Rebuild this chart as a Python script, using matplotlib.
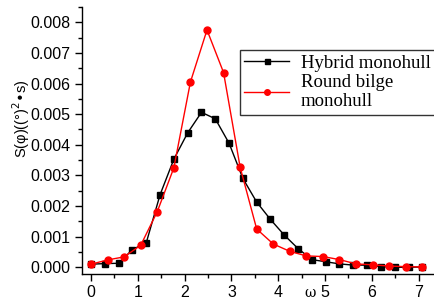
import matplotlib
matplotlib.use("Agg")
import matplotlib.pyplot as plt
from matplotlib.ticker import MultipleLocator

# Hybrid monohull (black squares)
hybrid_omega = [0.0, 0.295, 0.59, 0.885, 1.18, 1.475, 1.77, 2.065, 2.36, 2.655,
                2.95, 3.245, 3.54, 3.835, 4.13, 4.425, 4.72, 5.015, 5.31, 5.605,
                5.9, 6.195, 6.49, 6.785, 7.08]
hybrid_S = [0.0001, 0.00012, 0.00013, 0.00058, 0.0008, 0.00237, 0.00353, 0.00439,
            0.00506, 0.00485, 0.00405, 0.0029, 0.00213, 0.00156, 0.00105, 0.00061,
            0.00025, 0.00018, 0.00011, 0.00007, 0.00007, 0.00002, 0.0, 0.0, 0.00001]

# Round bilge monohull (red circles)
round_omega = [0.0, 0.354, 0.708, 1.062, 1.416, 1.77, 2.124, 2.478, 2.832, 3.186,
               3.54, 3.894, 4.248, 4.602, 4.956, 5.31, 5.664, 6.018, 6.372, 6.726, 7.08]
round_S = [0.0001, 0.00024, 0.00034, 0.00072, 0.00182, 0.00325, 0.00605, 0.00775,
           0.00636, 0.00327, 0.00125, 0.00076, 0.00052, 0.00037, 0.00035, 0.00025,
           0.00011, 0.00008, 0.00004, 0.00002, 0.00001]

labels = ["Hybrid monohull", "Round bilge\nmonohull"]

plt.rcParams['font.family'] = ['Liberation Sans', 'DejaVu Sans']

fig = plt.figure(figsize=(4.34, 3.0), dpi=100)
ax = fig.add_axes([81.7/434, 26/300, 1 - 81.7/434, 267/300])

ax.plot(hybrid_omega, hybrid_S, color='black', lw=1.0, marker='s', ms=4.5,
        label=labels[0])
ax.plot(round_omega, round_S, color='red', lw=1.0, marker='o', ms=5,
        label=labels[1])

ax.set_xlim(-0.2, 7.33)
ax.set_ylim(-0.00022, 0.0085)
ax.xaxis.set_major_locator(MultipleLocator(1))
ax.xaxis.set_minor_locator(MultipleLocator(0.5))
ax.yaxis.set_major_locator(MultipleLocator(0.001))
ax.yaxis.set_minor_locator(MultipleLocator(0.0005))
ax.yaxis.set_major_formatter(matplotlib.ticker.FormatStrFormatter('%.3f'))

for s in ['top', 'right']:
    ax.spines[s].set_visible(False)
for s in ['left', 'bottom']:
    ax.spines[s].set_linewidth(1.0)

ax.tick_params(which='major', direction='out', length=5, width=1, labelsize=11.5, pad=3)
ax.tick_params(which='minor', direction='out', length=3, width=1)

fig.text(21/434, 1 - 119/300, "S(φ)((°)$^{2}$•s)", fontsize=10.5, rotation=90,
         ha='center', va='center')
fig.text(310/434, 1 - 293/300, "ω", fontsize=10, ha='center', va='center',
         family='DejaVu Serif')

leg = fig.legend(loc='upper left', bbox_to_anchor=(239.7/434, 1 - 50/300),
                 prop={'family': 'Liberation Serif', 'size': 13.5},
                 frameon=True, fancybox=False, edgecolor='black',
                 borderpad=0.25, labelspacing=0.1, handlelength=2.4,
                 handletextpad=0.6, markerscale=0.8, borderaxespad=0)
leg.get_frame().set_linewidth(1.0)

fig.savefig("out.png", dpi=100)
